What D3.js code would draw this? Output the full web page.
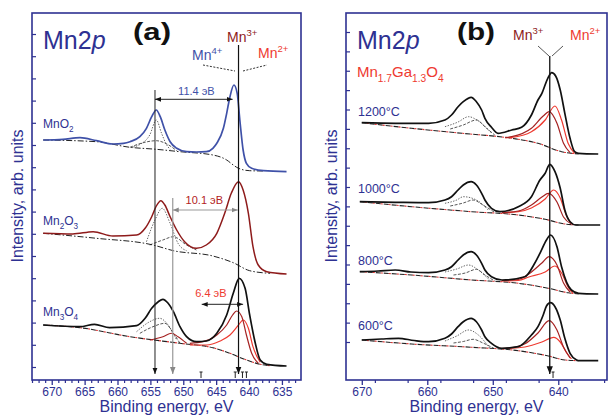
<!DOCTYPE html>
<html><head><meta charset="utf-8">
<script src="https://cdn.jsdelivr.net/npm/d3@7"></script>
<style>body{margin:0;background:#fff}svg{display:block;font-family:"Liberation Sans",Arial,sans-serif}</style>
</head><body>
<svg id="c" width="609" height="417"></svg>
<script>
// ---------------- DATA (binding energy eV, intensity arb. units) ----------------
const xTicksA = [670,665,660,655,650,645,640,635];
const xTicksB = [670,660,650,640];
const sampleLabelsA = ["MnO2","Mn2O3","Mn3O4"];
const tempLabelsB = ["1200°C","1000°C","800°C","600°C"];

// Panel (a)
const mnO2Total = [[671.3,240],[668.3,240.7],[665.7,242.3],[663.2,239.3],[660.7,236],[659.1,236.7],[658.1,238.3],[656.6,243.3],[655.6,251.7],[654.8,263.3],[654.1,270],[653.5,263.3],[652.8,250],[652.0,238.3],[651.0,231.7],[649.5,228.3],[648.0,228],[646.5,228.3],[645.5,231.7],[644.9,236.7],[643.9,251.7],[643.4,266.7],[642.9,283.3],[642.3,295],[641.8,286.7],[641.4,260],[640.9,230],[640.4,216.7],[639.6,211.7],[637.8,209.3],[634.3,208.3]];
const mnO2Bg = [[671.3,240],[663.2,238.3],[658.1,232.7],[654.1,230.7],[650.5,228.3],[645.5,225],[643.4,220],[642.4,215],[641.6,211.7],[639.9,209.3],[637.8,209]];
const mnO2CompA = [[657.6,233],[656.6,235.5],[655.1,245],[654.1,260],[653.3,246.7],[652.6,236],[652.0,230.5]];
const mnO2CompB = [[658.1,232.7],[656.1,237.3],[654.1,239.3],[652.5,236],[651.0,229.3]];

const mn2O3Total = [[671.3,146.7],[666.8,146],[663.7,148.3],[660.7,144],[657.1,145],[655.8,151.7],[654.8,163.3],[654.1,174],[653.4,179.3],[652.8,175],[652.0,163.3],[651.0,150],[649.8,138.3],[648.0,131.7],[646.5,135],[644.9,146.7],[643.7,166.7],[642.7,186.7],[641.6,198.3],[640.9,190],[640.1,166.7],[639.4,133.3],[638.6,115],[637.3,108.3],[634.3,106]];
const mn2O3Bg = [[671.3,146.7],[663.2,141.7],[654.6,135],[651.5,129.3],[645.5,124],[642.4,117.3],[639.9,109.3],[636.8,106.7]];
const mn2O3CompA = [[655.6,138.3],[654.3,160],[653.2,171.7],[652.0,156.7],[650.8,136.7],[649.5,129.3]];
const mn2O3CompB = [[655.1,135],[653.1,140],[651.5,143.3],[649.5,135],[648.0,130]];

const mn3O4Total = [[671.3,55],[665.7,53.3],[663.5,55.7],[661.2,52.3],[657.1,54.3],[655.8,61.7],[654.8,71.7],[653.8,78.3],[653.1,80.7],[652.3,76.7],[651.5,68.3],[650.5,53.3],[649.5,43.3],[648.0,38.3],[646.5,39],[644.9,46.7],[643.4,65],[642.4,86.7],[641.5,101.7],[640.6,91.7],[639.9,65],[639.1,38.3],[638.3,20],[637.3,15.7],[634.3,14]];
const mn3O4Bg = [[671.3,55],[665.7,52.3],[658.1,43.3],[650.5,36.7],[645.5,32.3],[642.9,26.7],[640.4,20],[638.3,15.7],[636.8,14.3]];
const mn3O4Mn3 = [[649.0,36.7],[647.0,38.3],[644.9,45],[643.4,55],[642.5,65],[641.9,69],[641.1,63.3],[640.4,45],[639.6,26.7],[638.6,16.7]];
const mn3O4Mn2 = [[649.0,35],[646.5,35],[644.4,39],[642.9,45],[641.6,55],[640.9,60],[640.1,51.7],[639.4,33.3],[638.3,17.7]];
const mn3O4Sat = [[655.1,40],[653.1,43.3],[651.8,46.7],[650.8,43.3],[649.5,36.7]];
const mn3O4CompA = [[657.1,48.3],[655.1,58.3],[653.6,61.7],[652.3,55],[651.0,40]];
const mn3O4CompB = [[656.6,46.7],[654.6,53.3],[652.8,56.7],[651.5,46.7],[650.5,36.7]];

// Panel (b)  Mn1.7Ga1.3O4
const t1200Total = [[670.0,257.3],[664.9,256.7],[659.8,256.7],[657.3,260],[656.3,265],[655.3,273.3],[654.5,278.3],[653.3,282.7],[652.5,278.3],[651.7,270],[651.2,261.7],[650.2,252.7],[649.2,246.7],[647.1,250],[645.6,252.7],[644.1,265],[643.1,280],[642.5,286.7],[641.6,301.7],[641.0,307.3],[640.4,304],[639.7,290],[639.0,266.7],[638.2,241.7],[637.5,228.3],[636.9,226.7],[633.9,226]];
const t1200Bg = [[670.0,257.3],[662.4,251.7],[654.7,246.7],[647.1,241.7],[643.1,236.7],[639.5,228.3],[636.9,226]];
const t1200Mn3 = [[648.1,242.3],[647.1,243.3],[644.1,251.7],[642.3,264],[641.4,268.3],[640.2,256.7],[639.2,236.7],[638.2,227.3]];
const t1200Mn2 = [[648.1,242.3],[647.1,242.7],[644.1,248.3],[642.0,260],[640.5,274],[639.5,260],[638.5,236.7],[637.5,226.7]];
const t1200CompA = [[657.3,253.3],[655.3,258],[653.7,263.3],[652.2,259],[650.2,247]];
const t1200CompB = [[656.5,251],[654.5,255],[652.5,260],[651.0,252],[649.7,245]];

const t1000Total = [[670.3,178.3],[664.9,177.7],[659.8,177.3],[657.3,180],[656.3,183.3],[655.3,190],[654.5,195],[653.3,198.3],[652.5,195],[651.7,186.7],[651.2,180],[650.2,171.7],[648.9,168.3],[646.1,173.3],[644.1,183.3],[642.8,200],[642.0,206.7],[641.3,215.7],[640.5,208.3],[639.7,191.7],[639.0,170],[638.2,158.3],[637.3,155],[633.6,155]];
const t1000Bg = [[670.3,178.3],[662.4,173.3],[653.2,168.3],[646.1,165],[642.0,160.7],[639.0,156],[636.9,155]];
const t1000Mn3 = [[648.6,167.3],[646.1,169],[644.1,175],[642.5,183],[641.5,186.7],[640.2,178],[639.2,163],[638.0,156]];
const t1000Mn2 = [[648.6,167.3],[646.1,168.3],[644.1,172],[642.0,181],[640.7,190],[639.7,182],[638.8,165],[638.0,156.5]];
const t1000CompA = [[657.3,176.7],[655.5,180],[654.5,183.3],[652.5,180],[650.7,170]];
const t1000CompB = [[656.5,174],[654.5,177],[653.0,180],[651.5,175],[649.8,168]];

const t800Total = [[670.3,108.3],[667.5,109],[664.9,110],[662.5,108],[659.8,107.3],[657.3,110],[656.3,113.3],[655.3,120],[654.5,125],[653.3,128.3],[652.5,125],[651.7,116.7],[651.2,110],[650.2,103.3],[648.6,100],[645.1,103.3],[643.6,116.7],[642.8,126.7],[641.8,140],[641.2,145],[640.2,133.3],[639.5,113.3],[638.0,90],[636.9,86.7],[633.9,86]];
const t800Bg = [[670.3,108.3],[662.4,105],[653.2,100],[646.1,96.7],[641.5,91.7],[638.5,87.3],[636.9,86]];
const t800Mn3 = [[648.6,99.5],[646.1,100.5],[644.5,106],[642.5,117],[641.4,123.3],[640.2,115],[639.2,97],[638.2,88]];
const t800Mn2 = [[648.6,99],[646.1,99.5],[644.5,103],[642.0,108],[640.5,114],[639.5,107],[638.5,93],[637.8,87]];
const t800CompA = [[657.3,108],[655.5,111],[653.7,115],[652.2,110],[650.5,100]];
const t800CompB = [[656.0,105],[654.2,107],[652.5,110.7],[651.2,105],[649.7,99]];

const t600Total = [[670.0,40],[667,41],[664.4,41.7],[662,39.5],[659.8,38.3],[657.3,41.7],[656.3,46],[655.3,53.3],[654.5,58.3],[653.3,61.7],[652.5,58.3],[651.7,50],[651.2,43.3],[650.2,36.7],[648.6,31.7],[646.1,33.3],[644.1,45],[643.1,53.3],[642.3,65],[641.8,74],[641.2,77.3],[640.5,73.3],[639.7,60],[639.0,41.7],[638.2,26.7],[637.2,20],[636.9,19.3],[633.9,19.3]];
const t600Bg = [[670.0,40],[662.4,36],[653.2,32.7],[646.1,29.3],[641.5,24],[639.0,20],[636.9,19.3]];
const t600Mn3 = [[649.0,31.5],[646.5,33],[645.0,36.5],[643.1,47],[641.4,59.3],[640.2,50],[639.2,33],[638.2,22]];
const t600Mn2 = [[649.0,31.5],[646.5,32],[645.1,33],[642.5,38],[640.7,42.7],[639.7,38],[638.8,28],[638.0,21]];
const t600CompA = [[657.3,39],[655.5,44],[653.7,50],[652.2,45],[650.5,32]];
const t600CompB = [[656.0,37],[654.5,38.5],[653.0,40.7],[651.5,37],[649.8,31.5]];

// ---------------- DRAWING ----------------
const NAVY = "#2e3192", BLUE = "#3f51a8", MAROON = "#8e1b1b", MN3 = "#a52222", MN2 = "#ee3a30";
const svg = d3.select("#c");
const defs = svg.append("defs");
function mk(id, color){
  defs.append("marker").attr("id",id).attr("viewBox","0 0 10 10").attr("refX",10).attr("refY",5)
    .attr("markerWidth",6).attr("markerHeight",6).attr("orient","auto-start-reverse")
    .append("path").attr("d","M0,1L10,5L0,9z").attr("fill",color);
}
mk("ab","#111"); mk("ag","#888");

function makePanel(x0, x1, dom){
  const x = d3.scaleLinear().domain(dom).range([x0, x1]);
  const y = d3.scaleLinear().domain([0,367]).range([380,13]);
  return {x, y, g: svg.append("g")};
}
const A = makePanel(32, 301, [673, 632.1]);
const B = makePanel(346, 607, [672.41, 632.56]);

function curve(P, data, color, w, dash){
  const line = d3.line().x(d=>P.x(d[0])).y(d=>P.y(d[1])).curve(d3.curveMonotoneX);
  const p = P.g.append("path").datum(data).attr("d",line).attr("fill","none")
    .attr("stroke",color).attr("stroke-width",w).attr("stroke-linejoin","round");
  if(dash) p.attr("stroke-dasharray",dash);
  return p;
}
function rich(sel, x, y, parts, size, fill){
  const t = sel.append("text").attr("x",x).attr("y",y).attr("font-size",size).attr("fill",fill);
  let shift = 0;
  parts.forEach(p=>{
    if(typeof p === "string") p = {t:p};
    const target = p.sub ? size*0.32 : p.sup ? -size*0.42 : 0;
    const ts = t.append("tspan").text(p.t).attr("dy", target-shift);
    shift = target;
    if(p.sub||p.sup) ts.attr("font-size", size*0.68);
    if(p.it) ts.attr("font-style","italic");
  });
  return t;
}
function chem(s){
  const parts=[]; const re=/([A-Za-z]+)|([0-9.]+)/g; let m;
  while((m=re.exec(s))){ if(m[1]) parts.push({t:m[1]}); else parts.push({t:m[2],sub:true}); }
  return parts;
}

function axes(P, majors, minorStep, yTicks){
  const [d0,d1] = P.x.domain();
  const g = P.g;
  g.append("rect").attr("x",P.x.range()[0]).attr("y",13).attr("width",P.x.range()[1]-P.x.range()[0]).attr("height",367)
    .attr("fill","none").attr("stroke",NAVY).attr("stroke-width",1.6);
  const minors = d3.range(Math.ceil(d1), Math.floor(d0)+1, minorStep).filter(v=>!majors.includes(v));
  g.append("g").attr("transform","translate(0,380)")
    .call(d3.axisBottom(P.x).tickValues(minors).tickSize(3).tickFormat(""))
    .call(s=>{s.select(".domain").remove(); s.selectAll("text").remove();
      s.selectAll("line").attr("stroke",NAVY).attr("stroke-width",1.2);});
  g.append("g").attr("transform","translate(0,380)")
    .call(d3.axisBottom(P.x).tickValues(majors).tickSize(5).tickPadding(2).tickFormat(d3.format("d")))
    .call(s=>{s.select(".domain").remove(); s.selectAll("line").attr("stroke",NAVY).attr("stroke-width",1.3);
      s.selectAll("text").attr("fill",NAVY).attr("font-size",12).attr("font-family","Liberation Sans, Arial, sans-serif");});
  g.append("g").attr("transform",`translate(${P.x.range()[0]},0)`)
    .call(d3.axisRight(P.y).tickValues(yTicks).tickSize(4).tickFormat(""))
    .call(s=>{s.select(".domain").remove(); s.selectAll("text").remove();
      s.selectAll("line").attr("stroke",NAVY).attr("stroke-width",1.2);});
  const cx = (P.x.range()[0]+P.x.range()[1])/2;
  g.append("text").attr("x",cx).attr("y",412).attr("text-anchor","middle").attr("font-size",16).attr("fill",NAVY).text("Binding energy, eV");
  g.append("text").attr("transform",`translate(${P.x.range()[0]-9},196) rotate(-90)`).attr("text-anchor","middle")
    .attr("font-size",16).attr("fill",NAVY).text("Intensity, arb. units");
}
axes(A, xTicksA, 1, d3.range(13, 347, 22.2));
axes(B, xTicksB, 5, d3.range(38, 349, 19.375));

// ----- panel (a) spectra
const dot = "1.4,1.4", dashdot = "6,2,1.5,2";
[[mnO2CompA,mnO2CompB],[mn2O3CompA,mn2O3CompB],[mn3O4CompA,mn3O4CompB]].forEach(pr=>{
  curve(A, pr[0], "#555", 0.9, dot); curve(A, pr[1], "#444", 0.9, "3,1.5");
});
curve(A, mnO2Bg, "#222", 1, dashdot);
curve(A, mn2O3Bg, "#222", 1, dashdot);
curve(A, mn3O4Bg, "#222", 1.1, "5,3");
curve(A, mn3O4Bg, "#d33", 1.1, "2,6").attr("stroke-dashoffset",-5);
curve(A, mn3O4Sat, MN3, 1.1);
curve(A, mn3O4Mn2, MN2, 1.2);
curve(A, mn3O4Mn3, MN3, 1.2);
curve(A, mnO2Total, BLUE, 1.7);
curve(A, mn2O3Total, MAROON, 1.5);
curve(A, mn3O4Total, "#111", 1.7);

function vline(P, e, top, bottom, color, w, marker){
  P.g.append("line").attr("x1",P.x(e)).attr("x2",P.x(e)).attr("y1",P.y(top)).attr("y2",P.y(bottom))
    .attr("stroke",color).attr("stroke-width",w).attr("marker-end",marker?`url(#${marker})`:null);
}
function harrow(P, e0, e1, lev, color, marker){
  P.g.append("line").attr("x1",P.x(e0)).attr("x2",P.x(e1)).attr("y1",P.y(lev)).attr("y2",P.y(lev))
    .attr("stroke",color).attr("stroke-width",1).attr("marker-start",`url(#${marker})`).attr("marker-end",`url(#${marker})`);
}
vline(A, 654.3, 290, 6, "#222", 1, "ab");
vline(A, 651.6, 182, 6, "#999", 1.2, "ag");
vline(A, 641.6, 335, 6, "#111", 1.2, "ab");
harrow(A, 654.3, 642.5, 280.7, "#222", "ab");
harrow(A, 651.6, 641.7, 170, "#999", "ag");
harrow(A, 647.2, 640.9, 75.7, "#222", "ab");
[647.3, 642.1, 641.0, 640.4].forEach(e=>{
  const xx=A.x(e);
  A.g.append("path").attr("d",`M${xx},378V372M${xx-1.5},372H${xx+1.5}`).attr("stroke","#222").attr("stroke-width",1).attr("fill","none");
});
A.g.append("text").attr("x",A.x(648.0)).attr("y",95).attr("text-anchor","middle").attr("font-size",11).attr("fill",BLUE).text("11.4 эВ");
A.g.append("text").attr("x",A.x(646.8)).attr("y",204).attr("text-anchor","middle").attr("font-size",11).attr("fill","#b22222").text("10.1 эВ");
A.g.append("text").attr("x",A.x(645.8)).attr("y",297).attr("text-anchor","middle").attr("font-size",11).attr("fill",MN2).text("6.4 эВ");

rich(A.g, 43, 49, ["Mn2",{t:"p",it:true}], 25, NAVY);
A.g.append("text").attr("x",133).attr("y",40).attr("font-size",23).attr("font-weight","bold").attr("fill","#111")
  .attr("textLength",38).attr("lengthAdjust","spacingAndGlyphs").text("(a)");
rich(A.g, 43, 128, chem(sampleLabelsA[0]), 12, NAVY);
rich(A.g, 43, 225, chem(sampleLabelsA[1]), 12, NAVY);
rich(A.g, 43, 316, chem(sampleLabelsA[2]), 12, NAVY);
rich(A.g, 227, 42, ["Mn",{t:"3+",sup:true}], 14, MAROON);
rich(A.g, 192, 60, ["Mn",{t:"4+",sup:true}], 14, BLUE);
rich(A.g, 258, 58, ["Mn",{t:"2+",sup:true}], 14, MN2);
A.g.append("path").attr("d","M203,65L235,71M243,71L267,65").attr("stroke","#333").attr("stroke-width",1).attr("stroke-dasharray","2,1.5").attr("fill","none");

// ----- panel (b) spectra
const setsB = [
  [t1200Total,t1200Bg,t1200Mn3,t1200Mn2,t1200CompA,t1200CompB],
  [t1000Total,t1000Bg,t1000Mn3,t1000Mn2,t1000CompA,t1000CompB],
  [t800Total,t800Bg,t800Mn3,t800Mn2,t800CompA,t800CompB],
  [t600Total,t600Bg,t600Mn3,t600Mn2,t600CompA,t600CompB]];
setsB.forEach(s=>{
  curve(B, s[4], "#555", 0.9, dot);
  curve(B, s[5], "#444", 0.9, "3,1.5");
  curve(B, s[1], "#222", 1.1, "5,3");
  curve(B, s[1], "#d33", 1.1, "2,6").attr("stroke-dashoffset",-5);
  curve(B, s[3], MN2, 1.2);
  curve(B, s[2], MN3, 1.2);
  curve(B, s[0], "#111", 1.7);
});
vline(B, 641.3, 324, 6, "#111", 1.3, "ab");
{ const xx = B.x(640.8);
  B.g.append("path").attr("d",`M${xx},378V372M${xx-1.5},372H${xx+1.5}`).attr("stroke","#222").attr("stroke-width",1).attr("fill","none"); }
rich(B.g, 357, 49, ["Mn2",{t:"p",it:true}], 25, NAVY);
B.g.append("text").attr("x",457).attr("y",40).attr("font-size",23).attr("font-weight","bold").attr("fill","#111")
  .attr("textLength",38).attr("lengthAdjust","spacingAndGlyphs").text("(b)");
rich(B.g, 357, 77, chem("Mn1.7Ga1.3O4"), 15, MN2);
[116,193,265,330].forEach((yy,i)=>{
  B.g.append("text").attr("x",358).attr("y",yy).attr("font-size",12.5).attr("fill",NAVY).text(tempLabelsB[i]);
});
rich(B.g, 513, 40, ["Mn",{t:"3+",sup:true}], 14, MAROON);
rich(B.g, 570, 40, ["Mn",{t:"2+",sup:true}], 14, MN2);
B.g.append("path").attr("d","M538,46L549,56M563,46L552,56").attr("stroke","#444").attr("stroke-width",0.9).attr("fill","none");
</script>
</body></html>
